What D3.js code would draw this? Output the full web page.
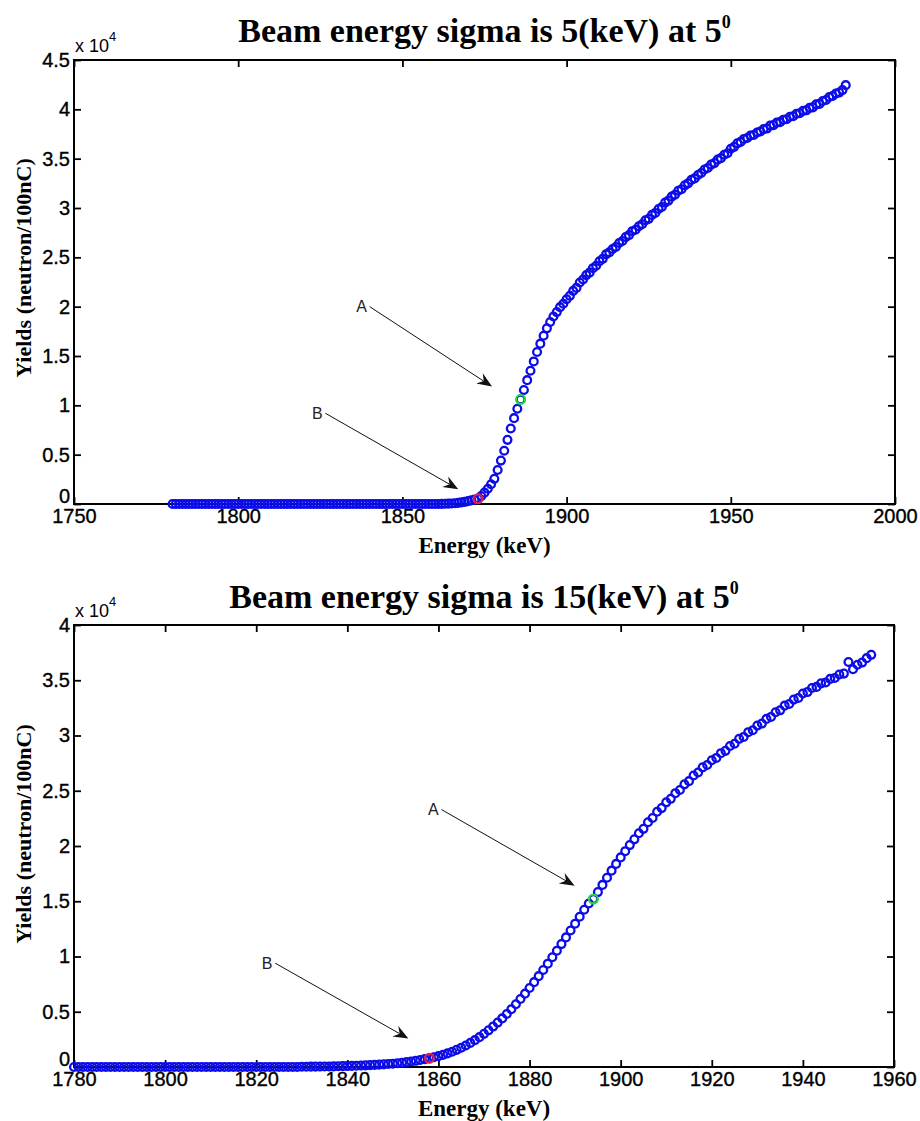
<!DOCTYPE html>
<html>
<head>
<meta charset="utf-8">
<script src="https://cdn.jsdelivr.net/npm/d3@7"></script>
<style>
  html, body { margin: 0; padding: 0; background: #ffffff; }
  svg { display: block; }
</style>
</head>
<body>
<div id="chart"></div>
<script>
// ---------------- DATA ----------------
// Panel 1: beam energy sigma 5 keV
const topEnergy = [
  1780,1781,1782,1783,1784,1785,1786,1787,1788,1789,
  1790,1791,1792,1793,1794,1795,1796,1797,1798,1799,
  1800,1801,1802,1803,1804,1805,1806,1807,1808,1809,
  1810,1811,1812,1813,1814,1815,1816,1817,1818,1819,
  1820,1821,1822,1823,1824,1825,1826,1827,1828,1829,
  1830,1831,1832,1833,1834,1835,1836,1837,1838,1839,
  1840,1841,1842,1843,1844,1845,1846,1847,1848,1849,
  1850,1851,1852,1853,1854,1855,1856,1857,1858,1859,
  1860,1861,1862,1863,1864,1865,1866,1867,1868,1869,
  1870,1871,1872,1873,1874,1875,1876,1877,1878,1879,
  1880,1881,1882,1883,1884,1885,1886,1887,1888,1889,
  1890,1891,1892,1893,1894,1895,1896,1897,1898,1899,
  1900,1901,1902,1903,1904,1905,1906,1907,1908,1909,
  1910,1911,1912,1913,1914,1915,1916,1917,1918,1919,
  1920,1921,1922,1923,1924,1925,1926,1927,1928,1929,
  1930,1931,1932,1933,1934,1935,1936,1937,1938,1939,
  1940,1941,1942,1943,1944,1945,1946,1947,1948,1949,
  1950,1951,1952,1953,1954,1955,1956,1957,1958,1959,
  1960,1961,1962,1963,1964,1965,1966,1967,1968,1969,
  1970,1971,1972,1973,1974,1975,1976,1977,1978,1979,
  1980,1981,1982,1983,1984,1985
];
const topYield = [
  0,0,0,0,0,0,0,0,0,0,
  0,0,0,0,0,0,0,0,0,0,
  0,0,0,0,0,0,0,0,0,0,
  0,0,0,0,0,0,0,0,0,0,
  0,0,0,0,0,0,0,0,0,0,
  0,0,0,0,0,0,0,0,0,0,
  0,0,0,0,0,0,0,0,0,0,
  0,0,0,0,0,0,0,0,0,0,
  0,5,10,20,35,55,80,115,160,220,
  290,370,440,530,800,1150,1550,2000,2550,3450,
  4400,5400,6500,7650,8700,9650,10600,11550,12550,13500,
  14450,15400,16250,17050,17800,18450,19000,19450,19950,20300,
  20750,21100,21600,21900,22450,22750,23200,23450,23900,24150,
  24600,24850,25300,25500,25850,26050,26450,26650,27050,27250,
  27650,27800,28150,28350,28750,28900,29300,29500,29900,30100,
  30550,30750,31150,31350,31750,31900,32300,32500,32850,33000,
  33350,33550,33900,34050,34400,34550,34900,35050,35400,35550,
  36000,36200,36550,36700,37000,37100,37350,37400,37650,37750,
  38000,38050,38350,38400,38650,38700,38950,39000,39250,39300,
  39550,39600,39850,39900,40150,40200,40500,40550,40850,40950,
  41250,41350,41600,41700,41950,42450
];
const topXTicks = [1750, 1800, 1850, 1900, 1950, 2000];
const topYTicks = [0, 5000, 10000, 15000, 20000, 25000, 30000, 35000, 40000, 45000];
const topYTickLabels = ["0", "0.5", "1", "1.5", "2", "2.5", "3", "3.5", "4", "4.5"];
const topMarkB = 1873;   // red point
const topMarkA = 1886;   // green point
// annotation anchors [label energy, label yield, arrow-tip energy, arrow-tip yield]
const topArrowA = [1837.6, 20000, 1877.3, 11900];
const topArrowB = [1824.1, 9200, 1867.0, 1500];

// Panel 2: beam energy sigma 15 keV
const botEnergy = [
  1780,1781,1782,1783,1784,1785,1786,1787,1788,1789,
  1790,1791,1792,1793,1794,1795,1796,1797,1798,1799,
  1800,1801,1802,1803,1804,1805,1806,1807,1808,1809,
  1810,1811,1812,1813,1814,1815,1816,1817,1818,1819,
  1820,1821,1822,1823,1824,1825,1826,1827,1828,1829,
  1830,1831,1832,1833,1834,1835,1836,1837,1838,1839,
  1840,1841,1842,1843,1844,1845,1846,1847,1848,1849,
  1850,1851,1852,1853,1854,1855,1856,1857,1858,1859,
  1860,1861,1862,1863,1864,1865,1866,1867,1868,1869,
  1870,1871,1872,1873,1874,1875,1876,1877,1878,1879,
  1880,1881,1882,1883,1884,1885,1886,1887,1888,1889,
  1890,1891,1892,1893,1894,1895,1896,1897,1898,1899,
  1900,1901,1902,1903,1904,1905,1906,1907,1908,1909,
  1910,1911,1912,1913,1914,1915,1916,1917,1918,1919,
  1920,1921,1922,1923,1924,1925,1926,1927,1928,1929,
  1930,1931,1932,1933,1934,1935,1936,1937,1938,1939,
  1940,1941,1942,1943,1944,1945,1946,1947,1948,1949,
  1950,1951,1952,1953,1954,1955
];
const botYield = [
  0,0,0,0,0,0,0,0,0,0,
  0,0,0,0,0,0,0,0,0,0,
  0,0,0,0,0,0,0,0,0,0,
  0,0,0,0,0,0,0,0,0,0,
  0,0,0,0,0,0,0,0,0,0,
  20,25,30,35,40,45,50,55,65,75,
  85,100,115,130,150,170,190,215,240,270,
  300,340,390,440,500,560,630,710,790,880,
  980,1100,1230,1380,1550,1740,1950,2180,2430,2700,
  3000,3320,3660,4020,4400,4800,5230,5680,6150,6640,
  7150,7680,8220,8780,9350,9930,10520,11120,11730,12350,
  12970,13600,14230,14800,15200,15830,16480,17130,17770,18380,
  18970,19530,20080,20600,21150,21550,22150,22530,23100,23430,
  23950,24270,24780,25070,25580,25870,26380,26650,27120,27330,
  27760,27970,28400,28610,29050,29250,29700,29870,30300,30480,
  30900,31080,31500,31680,32100,32280,32700,32850,33250,33400,
  33800,33930,34300,34400,34720,34800,35120,35200,35520,35600,
  36650,36000,36400,36600,37000,37300
];
const botXTicks = [1780, 1800, 1820, 1840, 1860, 1880, 1900, 1920, 1940, 1960];
const botYTicks = [0, 5000, 10000, 15000, 20000, 25000, 30000, 35000, 40000];
const botYTickLabels = ["0", "0.5", "1", "1.5", "2", "2.5", "3", "3.5", "4"];
const botMarkB = 1858;
const botMarkA = 1894;
const botArrowA = [1858.9, 23300, 1889.9, 16400];
const botArrowB = [1822.4, 9400, 1853.4, 2570];

const sigmaLabels = ["5", "15"];
const xLabel = "Energy (keV)";
const yLabel = "Yields (neutron/100nC)";

// ---------------- DRAWING ----------------
const W = 920, H = 1121;
const svg = d3.select("#chart").append("svg")
  .attr("width", W).attr("height", H)
  .attr("viewBox", `0 0 ${W} ${H}`);

const panels = [
  { energy: topEnergy, yields: topYield, xDomain: [1750, 2000], yDomain: [0, 45000],
    xTicks: topXTicks, yTicks: topYTicks, yTickLabels: topYTickLabels,
    markA: topMarkA, markB: topMarkB, arrowA: topArrowA, arrowB: topArrowB,
    sigma: sigmaLabels[0],
    box: { left: 74, right: 895, top: 60, bottom: 504 }, titleY: 42, ylabelY: 268 },
  { energy: botEnergy, yields: botYield, xDomain: [1780, 1960], yDomain: [0, 40000],
    xTicks: botXTicks, yTicks: botYTicks, yTickLabels: botYTickLabels,
    markA: botMarkA, markB: botMarkB, arrowA: botArrowA, arrowB: botArrowB,
    sigma: sigmaLabels[1],
    box: { left: 74, right: 894, top: 625, bottom: 1067 }, titleY: 608, ylabelY: 834 }
];

const sansFont = "'Liberation Sans', Arial, Helvetica, sans-serif";
const serifFont = "'Liberation Serif', 'Times New Roman', Times, serif";
const blue = "#0c0ce8";

panels.forEach((p) => {
  const b = p.box;
  const x = d3.scaleLinear().domain(p.xDomain).range([b.left, b.right]);
  const y = d3.scaleLinear().domain(p.yDomain).range([b.bottom, b.top]);
  const g = svg.append("g");

  g.append("rect").attr("x", b.left).attr("y", b.top)
    .attr("width", b.right - b.left).attr("height", b.bottom - b.top)
    .attr("fill", "#ffffff");

  // axes
  const tickLen = 7;
  const fmtY = (v) => p.yTickLabels[p.yTicks.indexOf(v)];
  const ax = (gen, tx, ty) => {
    const a = g.append("g").attr("transform", `translate(${tx},${ty})`).call(gen);
    a.select(".domain").remove();
    a.selectAll(".tick line").attr("stroke", "#000").attr("stroke-width", 1.8);
    a.selectAll(".tick text").attr("fill", "#000")
      .attr("stroke", "#000").attr("stroke-width", 0.35)
      .style("font-family", sansFont).style("font-size", "20px");
    return a;
  };
  ax(d3.axisBottom(x).tickValues(p.xTicks).tickSize(-tickLen).tickPadding(5)
      .tickFormat(d3.format("d")), 0, b.bottom);
  ax(d3.axisTop(x).tickValues(p.xTicks).tickSize(-tickLen).tickFormat(""), 0, b.top);
  const left = ax(d3.axisLeft(y).tickValues(p.yTicks).tickSize(-tickLen).tickPadding(4)
      .tickFormat(fmtY), b.left, 0);
  // lift the "0" label slightly, as in the reference, so it clears the x tick labels
  left.selectAll(".tick").filter(d => d === 0).select("text").attr("dy", "-0.08em");
  ax(d3.axisRight(y).tickValues(p.yTicks).tickSize(-tickLen).tickFormat(""), b.right, 0);

  // frame
  g.append("rect").attr("x", b.left).attr("y", b.top)
    .attr("width", b.right - b.left).attr("height", b.bottom - b.top)
    .attr("fill", "none").attr("stroke", "#000").attr("stroke-width", 2);

  // data markers
  const pts = p.energy.map((e, i) => ({ e: e, v: p.yields[i] }));
  g.append("g").selectAll("circle").data(pts).join("circle")
    .attr("cx", d => x(d.e)).attr("cy", d => y(d.v)).attr("r", 3.9)
    .attr("fill", "none").attr("stroke", blue).attr("stroke-width", 2.3);

  // special markers
  const yieldAt = (e) => p.yields[p.energy.indexOf(e)];
  g.append("circle").attr("cx", x(p.markB)).attr("cy", y(yieldAt(p.markB))).attr("r", 4.4)
    .attr("fill", "none").attr("stroke", "#e0204a").attr("stroke-width", 2.2);
  g.append("circle").attr("cx", x(p.markA)).attr("cy", y(yieldAt(p.markA))).attr("r", 4.4)
    .attr("fill", "none").attr("stroke", "#22dd33").attr("stroke-width", 2.2);

  // annotation arrows
  const drawArrow = (arr, label) => {
    const lx = x(arr[0]), ly = y(arr[1]);
    const tx = x(arr[2]), ty = y(arr[3]);
    g.append("text").attr("x", lx).attr("y", ly).attr("text-anchor", "middle")
      .attr("dy", "0.36em").attr("fill", "#222")
      .style("font-family", sansFont).style("font-size", "16px").text(label);
    const sx = lx + 8, sy = ly;
    const ang = Math.atan2(ty - sy, tx - sx);
    const hl = 15, hw = 6, notch = 10;
    const ca = Math.cos(ang), sa = Math.sin(ang);
    const pt = (a, c) => [tx - a * ca - c * sa, ty - a * sa + c * ca];
    g.append("line").attr("x1", sx).attr("y1", sy)
      .attr("x2", pt(notch, 0)[0]).attr("y2", pt(notch, 0)[1])
      .attr("stroke", "#111").attr("stroke-width", 1);
    g.append("path")
      .attr("d", d3.line()([[tx, ty], pt(hl, hw), pt(notch, 0), pt(hl, -hw)]) + "Z")
      .attr("fill", "#111");
  };
  drawArrow(p.arrowA, "A");
  drawArrow(p.arrowB, "B");

  // exponent label
  const ex = g.append("text").attr("x", b.left + 1).attr("y", b.top - 8)
    .attr("fill", "#000").style("font-family", sansFont).style("font-size", "18px");
  ex.append("tspan").text("x 10");
  ex.append("tspan").attr("dy", -11).style("font-size", "13px").text("4");

  // title
  const t = g.append("text").attr("x", (b.left + b.right) / 2).attr("y", p.titleY)
    .attr("text-anchor", "middle").attr("fill", "#000")
    .style("font-family", serifFont).style("font-weight", "bold").style("font-size", "34px");
  t.append("tspan").text(`Beam energy sigma is ${p.sigma}(keV) at 5`);
  t.append("tspan").attr("dy", -14).style("font-size", "18px").text("0");

  // x label
  g.append("text").attr("x", (b.left + b.right) / 2).attr("y", b.bottom + 49)
    .attr("text-anchor", "middle").attr("fill", "#000")
    .style("font-family", serifFont).style("font-weight", "bold").style("font-size", "23px")
    .text(xLabel);

  // y label
  g.append("text").attr("transform", `translate(31,${p.ylabelY}) rotate(-90)`)
    .attr("text-anchor", "middle").attr("fill", "#000")
    .style("font-family", serifFont).style("font-weight", "bold").style("font-size", "22px")
    .text(yLabel);
});
</script>
</body>
</html>
